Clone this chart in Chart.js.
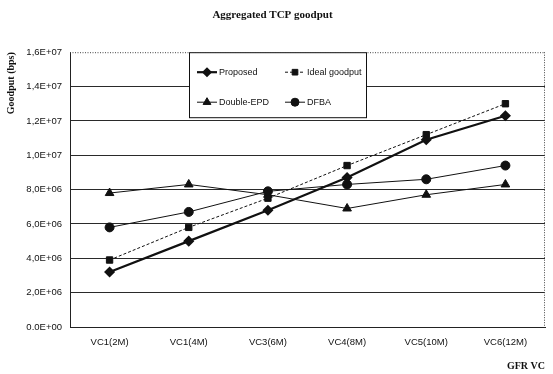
<!DOCTYPE html>
<html>
<head>
<meta charset="utf-8">
<script src="https://cdn.jsdelivr.net/npm/chart.js"></script>
<style>
  html, body { margin: 0; padding: 0; background: #fff; }
  #wrap { width: 553px; height: 374px; }
</style>
</head>
<body>
<div id="wrap"><canvas id="chart" width="553" height="374"></canvas></div>
<script>
const categories = ['VC1(2M)', 'VC1(4M)', 'VC3(6M)', 'VC4(8M)', 'VC5(10M)', 'VC6(12M)'];
const proposed = [3.2e6, 5.0e6, 6.8e6, 8.7e6, 1.09e7, 1.23e7];
const idealGoodput = [3.9e6, 5.8e6, 7.5e6, 9.4e6, 1.12e7, 1.30e7];
const doubleEPD = [7.8e6, 8.3e6, 7.7e6, 6.9e6, 7.7e6, 8.3e6];
const dfba = [5.8e6, 6.7e6, 7.9e6, 8.3e6, 8.6e6, 9.4e6];
const yTickLabels = ['0.0E+00', '2,0E+06', '4,0E+06', '6,0E+06', '8,0E+06', '1,0E+07', '1,2E+07', '1,4E+07', '1,6E+07'];

// legend drawn as a box inside the plot, two columns
const legendBox = {
    id: 'legendBox',
    afterDatasetsDraw(chart) {
        const {ctx, chartArea} = chart;
        const x = chartArea.left + 119, y = chartArea.top, w = 177, h = 65;
        ctx.save();
        ctx.fillStyle = '#fff';
        ctx.fillRect(x, y, w, h);
        ctx.strokeStyle = '#111';
        ctx.lineWidth = 1;
        ctx.strokeRect(x + 0.5, y + 0.5, w, h);
        chart.data.datasets.forEach((ds, i) => {
            const col = i % 2, row = Math.floor(i / 2);
            const lx = x + 8 + col * 88, ly = y + 20 + row * 30;
            ctx.strokeStyle = '#111';
            ctx.lineWidth = ds.borderWidth;
            ctx.setLineDash(ds.borderDash || []);
            ctx.beginPath();
            ctx.moveTo(lx, ly);
            ctx.lineTo(lx + 20, ly);
            ctx.stroke();
            ctx.setLineDash([]);
            ctx.fillStyle = '#111';
            Chart.helpers.drawPoint(ctx, {pointStyle: ds.pointStyle, radius: ds.pointRadius - 0.5, rotation: 0, borderWidth: 1}, lx + 10, ly);
            ctx.fillStyle = '#111';
            ctx.font = '9px "Liberation Sans", Arial, sans-serif';
            ctx.textBaseline = 'middle';
            ctx.textAlign = 'left';
            ctx.fillText(ds.label, lx + 22, ly + 0.5);
        });
        ctx.restore();
    }
};

// dotted top and right frame like the scan
const dottedFrame = {
    id: 'dottedFrame',
    beforeDatasetsDraw(chart) {
        const {ctx, chartArea} = chart;
        ctx.save();
        ctx.strokeStyle = '#444';
        ctx.lineWidth = 1;
        ctx.setLineDash([1, 1.5]);
        ctx.beginPath();
        ctx.moveTo(chartArea.left, chartArea.top + 0.5);
        ctx.lineTo(chartArea.right, chartArea.top + 0.5);
        ctx.moveTo(chartArea.right - 0.5, chartArea.top);
        ctx.lineTo(chartArea.right - 0.5, chartArea.bottom);
        ctx.stroke();
        ctx.restore();
    }
};

const ctx = document.getElementById('chart').getContext('2d');
new Chart(ctx, {
    type: 'line',
    data: {
        labels: categories,
        datasets: [
            {label: 'Proposed', data: proposed, borderColor: '#111', backgroundColor: '#111',
             borderWidth: 2.2, pointStyle: 'rectRot', pointRadius: 4},
            {label: 'Ideal goodput', data: idealGoodput, borderColor: '#111', backgroundColor: '#111',
             borderWidth: 1, borderDash: [3, 2], pointStyle: 'rect', pointRadius: 4.5},
            {label: 'Double-EPD', data: doubleEPD, borderColor: '#111', backgroundColor: '#111',
             borderWidth: 1, pointStyle: 'triangle', pointRadius: 5},
            {label: 'DFBA', data: dfba, borderColor: '#111', backgroundColor: '#111',
             borderWidth: 1, pointStyle: 'circle', pointRadius: 4.5}
        ]
    },
    options: {
        responsive: false,
        animation: false,
        devicePixelRatio: 1,
        layout: {padding: {left: 0, right: 8, top: 0, bottom: 0}},
        plugins: {
            legend: {display: false},
            tooltip: {enabled: false},
            title: {
                display: true,
                text: 'Aggregated TCP goodput',
                color: '#111',
                font: {family: '"Liberation Serif", "Times New Roman", serif', size: 11, weight: 'bold'},
                padding: {top: 9, bottom: 30}
            }
        },
        scales: {
            x: {
                offset: true,
                grid: {display: false, offset: true, drawTicks: false},
                border: {display: true, color: '#222', width: 1},
                ticks: {color: '#111', padding: 10, maxRotation: 0,
                        font: {family: '"Liberation Sans", Arial, sans-serif', size: 9.5}},
                title: {display: true, text: 'GFR VC', align: 'end', color: '#111',
                        font: {family: '"Liberation Serif", "Times New Roman", serif', size: 10, weight: 'bold'},
                        padding: {top: 4, bottom: 2}},
                afterFit(scale) { scale.height = 47; }
            },
            y: {
                min: 0,
                max: 1.6e7,
                grid: {
                    color: (c) => (c.tick && c.tick.value === 1.6e7) ? 'rgba(0,0,0,0)' : '#2a2a2a',
                    lineWidth: 1,
                    drawTicks: false
                },
                border: {display: true, color: '#222', width: 1},
                ticks: {
                    stepSize: 2e6,
                    padding: 8,
                    color: '#111',
                    font: {family: '"Liberation Sans", Arial, sans-serif', size: 9.5},
                    callback: (v, i) => yTickLabels[i]
                },
                title: {display: true, text: 'Goodput (bps)', align: 'end', color: '#111',
                        font: {family: '"Liberation Serif", "Times New Roman", serif', size: 10, weight: 'bold'},
                        padding: {top: 5, bottom: 0}},
                afterFit(scale) { scale.width = 70; }
            }
        }
    },
    plugins: [dottedFrame, legendBox]
});
</script>
</body>
</html>
